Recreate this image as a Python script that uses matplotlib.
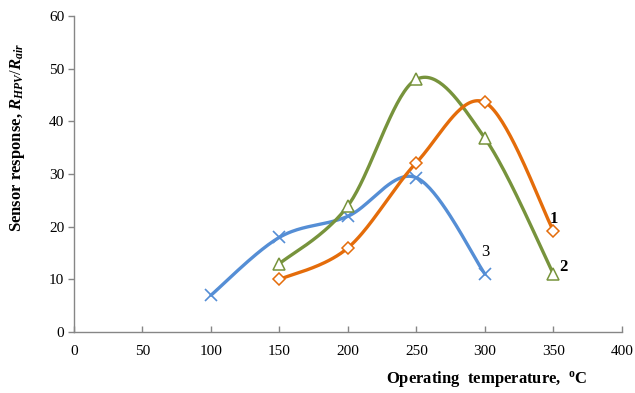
import numpy as np
import matplotlib
matplotlib.use("Agg")
import matplotlib.pyplot as plt

plt.rcParams['font.family'] = ['Liberation Serif', 'DejaVu Serif']
plt.rcParams['mathtext.fontset'] = 'custom'
plt.rcParams['mathtext.rm'] = 'Liberation Serif'
plt.rcParams['mathtext.it'] = 'Liberation Serif:italic'
plt.rcParams['mathtext.bf'] = 'Liberation Serif:bold'
try:
    plt.rcParams['mathtext.bfit'] = 'Liberation Serif:italic:bold'
except KeyError:
    pass

# Data
x1 = [150, 200, 250, 300, 350]
y1 = [10, 16, 32.2, 43.6, 19.2]
x2 = [150, 200, 250, 300, 350]
y2 = [13, 24, 48, 36.8, 11]
x3 = [100, 150, 200, 250, 300]
y3 = [7, 18, 22, 29.3, 11]
xticks = [0, 50, 100, 150, 200, 250, 300, 350, 400]
yticks = [0, 10, 20, 30, 40, 50, 60]


def smooth(xs, ys, n=40):
    P = np.column_stack([xs, ys]).astype(float)
    out = []
    for i in range(len(P) - 1):
        p0 = P[i - 1] if i > 0 else P[i]
        p1 = P[i]
        p2 = P[i + 1]
        p3 = P[i + 2] if i + 2 < len(P) else P[i + 1]
        c1 = p1 + (p2 - p0) / 6
        c2 = p2 - (p3 - p1) / 6
        t = np.linspace(0, 1, n)[:, None]
        seg = ((1 - t) ** 3) * p1 + 3 * ((1 - t) ** 2) * t * c1 + 3 * (1 - t) * t ** 2 * c2 + t ** 3 * p2
        out.append(seg if i == 0 else seg[1:])
    s = np.vstack(out)
    return s[:, 0], s[:, 1]


fig = plt.figure(figsize=(6.35, 3.93), dpi=100)
ax = fig.add_axes([0.1165, 0.155, 0.863, 0.804])

c1, c2, c3 = '#E46C0A', '#77933C', '#558ED5'

for xs, ys, c, m, ms in [(x3, y3, c3, 'x', 9), (x2, y2, c2, '^', 8), (x1, y1, c1, 'D', 6)]:
    sx, sy = smooth(xs, ys)
    ax.plot(sx, sy, color=c, lw=2.4, solid_capstyle='round', zorder=2)
    if m == 'x':
        ax.plot(xs, ys, ls='none', marker=m, ms=ms, mew=1.2, color=c, zorder=3)
    else:
        ax.plot(xs, ys, ls='none', marker=m, ms=ms, mew=1.1, mfc='white', mec=c, zorder=3)

ax.text(x1[-1], y1[-1] + 2.2, '1', fontsize=12, fontweight='bold', ha='center', va='center')
ax.text(x2[-1] + 7, y2[-1] + 1.3, '2', fontsize=12, fontweight='bold', ha='center', va='center')
ax.text(x3[-1] + 0.5, y3[-1] + 4.2, '3', fontsize=12, ha='center', va='center')

ax.set_xlim(0, 400)
ax.set_ylim(0, 60)
ax.set_xticks(xticks)
ax.set_yticks(yticks)
ax.tick_params(axis='x', direction='in', length=4, width=1, color='#868686', pad=9, labelsize=11)
ax.tick_params(axis='y', direction='out', length=4, width=1, color='#868686', pad=3, labelsize=11)
for s in ['top', 'right']:
    ax.spines[s].set_visible(False)
for s in ['left', 'bottom']:
    ax.spines[s].set_color('#868686')
    ax.spines[s].set_linewidth(1)

ax.set_xlabel(r'Operating  temperature,  $\mathregular{^o}$C', fontsize=12, fontweight='bold')
ax.xaxis.set_label_coords(0.754, -0.118)
ax.set_ylabel(r'Sensor response, $\mathbfit{R}_{\mathbfit{HPV}}/\mathbfit{R}_{\mathbfit{air}}$',
              fontsize=12, fontweight='bold')
ax.yaxis.set_label_coords(-0.085, 0.617)

fig.savefig('out.png', dpi=100)
